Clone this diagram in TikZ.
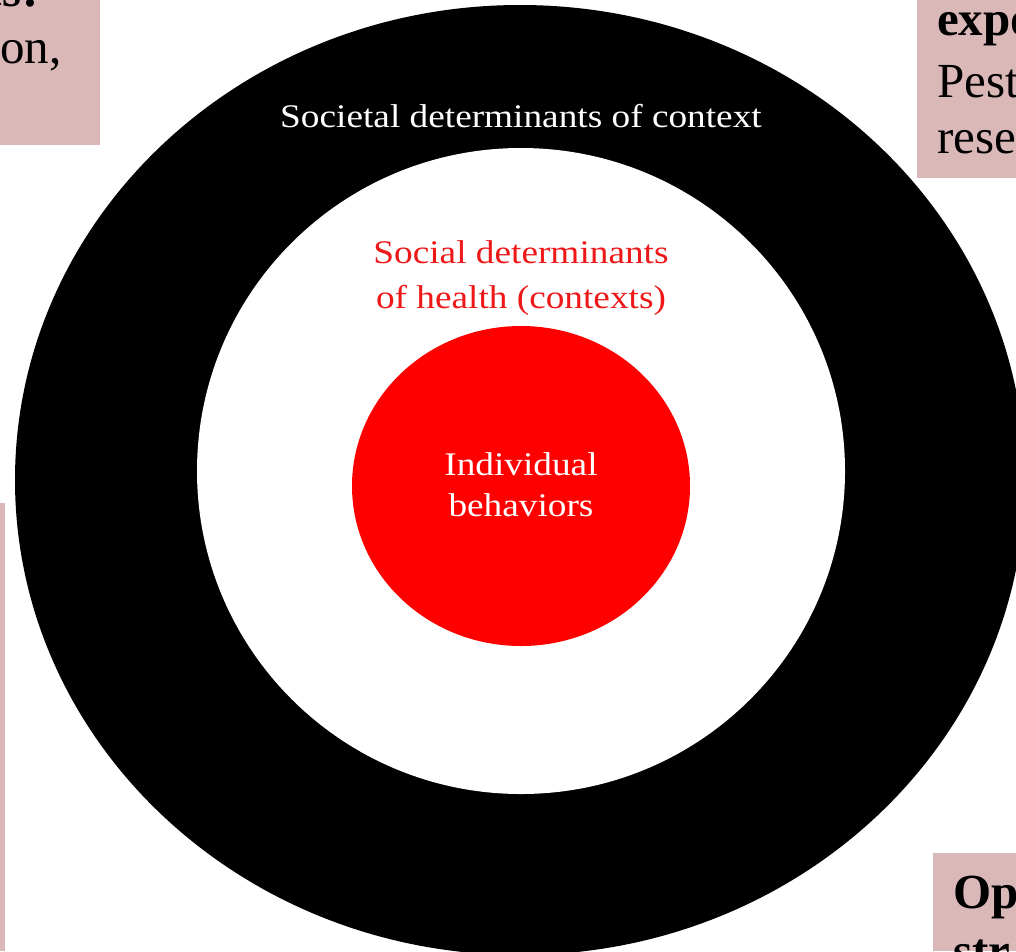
\documentclass[tikz,border=0pt]{standalone}
\usepackage{fontspec}
\setmainfont{Liberation Serif}
\newfontfamily\ringfont[FakeStretch=1.13]{Liberation Serif}
\usepackage{tikz}
\usetikzlibrary{positioning}
\definecolor{boxpink}{RGB}{219, 184, 184}
\definecolor{corered}{RGB}{255, 0, 0}
\definecolor{labelred}{RGB}{238, 24, 24}

\begin{document}
\begin{tikzpicture}[x=1pt, y=-1pt]
    \useasboundingbox (0, 0) rectangle (1016, 951);
    \clip (0, 0) rectangle (1016, 951);

    % Three nested discs: context, health, behaviour
    \fill[black] (520, 480) ellipse [x radius=505pt, y radius=475pt];
    \fill[white] (521, 471) ellipse [x radius=324pt, y radius=323pt];
    \fill[corered] (521, 486) ellipse [x radius=169pt, y radius=160pt];

    \node (societal) at (521, 116) [white, font=\ringfont\fontsize{33}{45}\selectfont] {Societal determinants of context};
    \node (social) at (521, 278) [labelred, align=center, font=\ringfont\fontsize{33}{45}\selectfont] {Social determinants\\of health (contexts)};
    \node (individual) at (521, 485) [white, align=center, font=\ringfont\fontsize{33}{41}\selectfont] {Individual\\behaviors};

    % Slide boxes cut off by the page edge
    \fill[boxpink] (0, 0) rectangle (100, 145);
    \fill[boxpink] (917, 0) rectangle (1016, 178);
    \fill[boxpink] (933, 853) rectangle (1016, 951);
    \fill[boxpink] (0, 503) rectangle (5, 951);

    \node (tlhead) at (-19, 6) [anchor=base west, inner sep=0pt, font=\fontsize{49}{59}\selectfont\bfseries] {es:};
    \node (tlline) at (0, 63) [anchor=base west, inner sep=0pt, font=\fontsize{49}{59}\selectfont] {on,};
    \node (trhead) at (937, 35) [anchor=base west, inner sep=0pt, font=\fontsize{49}{59}\selectfont\bfseries] {expo};
    \node (trline) at (937, 97) [anchor=base west, inner sep=0pt, font=\fontsize{49}{59}\selectfont] {Pest};
    \node (trlast) at (937, 153) [anchor=base west, inner sep=0pt, font=\fontsize{49}{59}\selectfont] {rese};
    \node (brhead) at (953, 908) [anchor=base west, inner sep=0pt, font=\fontsize{49}{59}\selectfont\bfseries] {Op};
    \node (brline) at (953, 967) [anchor=base west, inner sep=0pt, font=\fontsize{49}{59}\selectfont\bfseries] {str};
\end{tikzpicture}
\end{document}
